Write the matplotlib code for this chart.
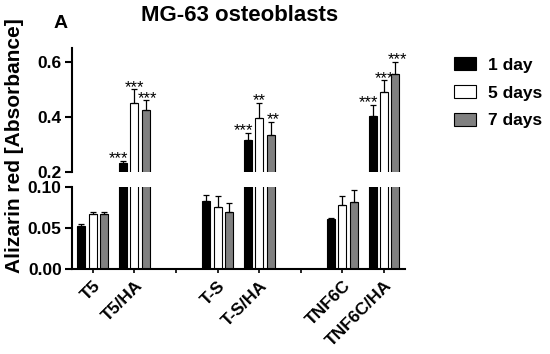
import numpy as np
import matplotlib
matplotlib.use("Agg")
import matplotlib.pyplot as plt
from matplotlib.patches import Patch

plt.rcParams['font.family'] = ['Liberation Sans', 'DejaVu Sans']
plt.rcParams['font.weight'] = 'bold'

# group labels (blank slots between material families)
labels = ['T5', 'T5/HA', '', 'T-S', 'T-S/HA', '', 'TNF6C', 'TNF6C/HA']
series = ['1 day', '5 days', '7 days']
colors = ['black', 'white', '#808080']

# means per series, one value per label slot (nan = empty slot)
day1 = [0.052, 0.232, np.nan, 0.083, 0.317, np.nan, 0.061, 0.405]
day5 = [0.067, 0.452, np.nan, 0.075, 0.398, np.nan, 0.078, 0.489]
day7 = [0.067, 0.424, np.nan, 0.069, 0.335, np.nan, 0.082, 0.556]
err1 = [0.003, 0.008, np.nan, 0.007, 0.025, np.nan, 0.001, 0.040]
err5 = [0.002, 0.048, np.nan, 0.014, 0.054, np.nan, 0.011, 0.044]
err7 = [0.002, 0.036, np.nan, 0.011, 0.048, np.nan, 0.014, 0.045]
stars1 = ['', '***', '', '', '***', '', '', '***']
stars5 = ['', '***', '', '', '**', '', '', '***']
stars7 = ['', '***', '', '', '**', '', '', '***']

means = [day1, day5, day7]
errs = [err1, err5, err7]
stars = [stars1, stars5, stars7]

fig = plt.figure(figsize=(5.5, 3.54), dpi=100)
ax_top = fig.add_axes([0.131, 0.514, 0.605, 0.35])
ax_bot = fig.add_axes([0.131, 0.240, 0.605, 0.232])

x = np.arange(len(labels))
w = 0.19
offs = [-0.275, 0.0, 0.275]

for ax in (ax_top, ax_bot):
    for i in range(3):
        ax.bar(x + offs[i], means[i], w, color=colors[i], edgecolor='black',
               linewidth=0.8, yerr=[np.zeros(len(x)), errs[i]],
               error_kw=dict(ecolor='black', elinewidth=0.9, capsize=2.5, capthick=0.9),
               zorder=2)
    ax.set_xlim(-0.5, 7.5)
    for s in ['top', 'right']:
        ax.spines[s].set_visible(False)
    ax.spines['left'].set_linewidth(1.5)
    ax.tick_params(axis='y', width=1.5, length=5, labelsize=12.5, pad=2.5)

ax_top.set_ylim(0.2, 0.65)
ax_top.set_yticks([0.2, 0.4, 0.6])
ax_top.set_yticklabels(['0.2', '0.4', '0.6'])
ax_top.spines['bottom'].set_visible(False)
ax_top.set_xticks([])

ax_bot.set_ylim(0.0, 0.10)
ax_bot.set_yticks([0.0, 0.05, 0.10])
ax_bot.set_yticklabels(['0.00', '0.05', '0.10'])
ax_bot.spines['bottom'].set_linewidth(1.5)
ax_bot.set_xticks(x)
ax_bot.set_xticklabels(labels, rotation=45, ha='right', rotation_mode='anchor', fontsize=12.5)
ax_bot.tick_params(axis='x', width=1.2, length=3)

# significance stars
for i in range(3):
    for j in range(len(x)):
        if stars[i][j]:
            yv = means[i][j] + errs[i][j]
            dx = -0.11 if i == 0 else (0.05 if i == 2 else 0.0)
            ax_top.text(x[j] + offs[i] + dx, yv - 0.02, stars[i][j], ha='center',
                        va='bottom', fontsize=12, fontweight='normal')

fig.text(0.436, 0.955, 'MG-63 osteoblasts', ha='center', va='center', fontsize=16)
fig.text(0.11, 0.935, 'A', ha='center', va='center', fontsize=14)
fig.text(0.027, 0.59, 'Alizarin red [Absorbance]', rotation=90, ha='center', va='center',
         fontsize=15)

handles = [Patch(facecolor=c, edgecolor='black', linewidth=0.8) for c in colors]
fig.legend(handles, series, loc='upper left', bbox_to_anchor=(0.812, 0.858), frameon=False,
           fontsize=12.5, handlelength=1.3, handleheight=0.75, handletextpad=0.7,
           labelspacing=0.72, borderaxespad=0.0)

fig.savefig('out.png', dpi=100)
